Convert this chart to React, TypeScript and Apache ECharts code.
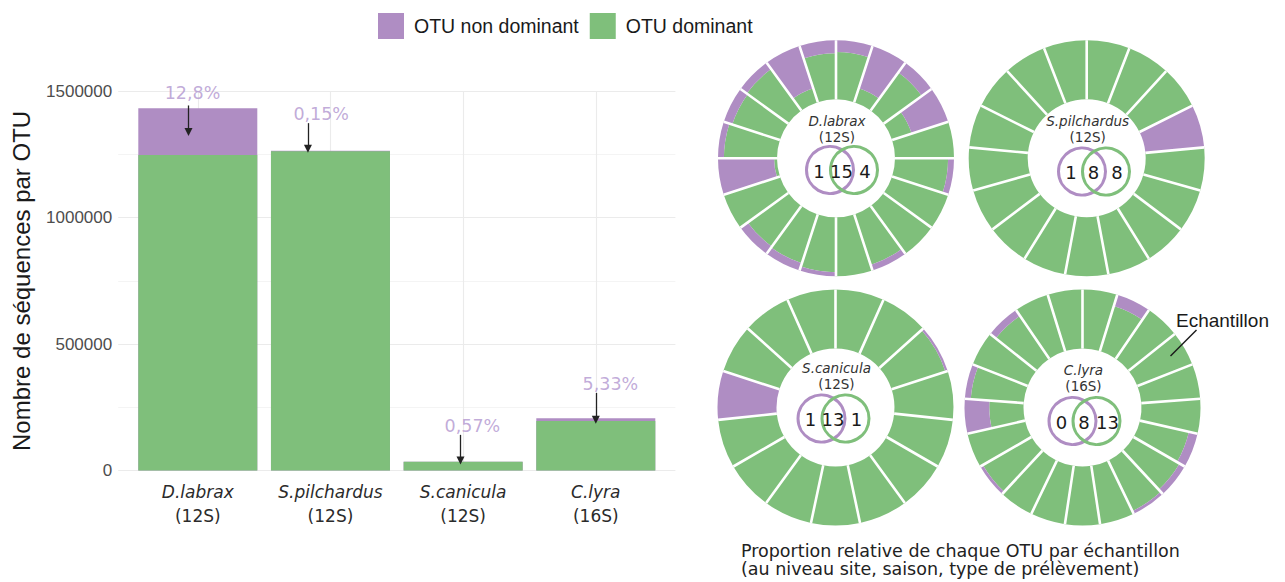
import React, { useEffect, useRef } from 'react';
import * as echarts from 'echarts';

// ---------- data ----------
const categories = ['D.labrax', 'S.pilchardus', 'S.canicula', 'C.lyra'];
const markers = ['12S', '12S', '12S', '16S'];
const dominantReads = [1248000, 1263100, 34600, 195500];
const nonDominantReads = [184700, 1900, 200, 11000];
const pctLabels = ['12,8%', '0,15%', '0,57%', '5,33%'];
// annotation anchors, in data units
const pctLabelX = [0.96, 1.93, 3.07, 4.11];
const pctLabelY = [1495000, 1412000, 175000, 343000];
const arrowX = [0.93, 1.83, 2.98, 4.0];
const arrowFromY = [1444000, 1374000, 141000, 307000];
const arrowToY = [1339000, 1273000, 40000, 201000];
const xTickValues = [1, 2, 3, 4];
const yMajorStep = 500000;

// share of the non dominant OTU in each sample (clockwise from 12 o'clock)
const dlabraxShare = [0.2, 0.75, 0.2, 0.65, 0, 0.1, 0, 0, 0.1, 0, 0.07, 0.13, 0.15, 0, 0.95, 0.1, 0.15, 0.13, 0.75, 0.22];
const spilchardusShare = [0, 0, 0, 1, 0, 0, 0, 0, 0, 0, 0, 0, 0, 0, 0, 0, 0];
const scaniculaShare = [0, 0, 0.04, 0, 0, 0, 0, 0, 0, 0, 0, 1, 0, 0, 0];
const clyraShare = [0, 0.2, 0, 0, 0, 0, 0.15, 0.1, 0.05, 0, 0, 0, 0, 0.05, 0, 0.42, 0.1, 0, 0.12, 0, 0];
const donutShares = [dlabraxShare, spilchardusShare, scaniculaShare, clyraShare];
const vennCounts = [
  [1, 15, 4],
  [1, 8, 8],
  [1, 13, 1],
  [0, 8, 13],
];

// ---------- styles / layout ----------
const PURPLE = '#AF8DC3';
const GREEN = '#7FBF7B';
const LABEL_PURPLE = '#B196CF';
const SANS = '"Liberation Sans", Arial, sans-serif';
const DJ = '"DejaVu Sans", Verdana, sans-serif';

const panels = [
  { cx: 836, cy: 158.3, vx: 842, vy: 170, ly: 121 },
  { cx: 1086.7, cy: 158.3, vx: 1094, vy: 171.5, ly: 120.5 },
  { cx: 835.5, cy: 407.5, vx: 833.5, vy: 418.5, ly: 368 },
  { cx: 1082.5, cy: 407.5, vx: 1084.5, vy: 421, ly: 369.5 },
];

function buildOption() {
  const totals = dominantReads.map((d, i) => d + nonDominantReads[i]);
  const series: any[] = [
    {
      // full column (dominant + non dominant); the dominant part is drawn over it
      name: 'OTU non dominant',
      type: 'bar',
      barWidth: 119,
      barGap: '-100%',
      z: 2,
      itemStyle: { color: PURPLE },
      data: categories.map((_, i) => [i + 1, totals[i]]),
    },
    {
      name: 'OTU dominant',
      type: 'bar',
      barWidth: 119,
      barGap: '-100%',
      z: 3,
      itemStyle: { color: GREEN },
      data: categories.map((_, i) => [i + 1, dominantReads[i]]),
    },
    {
      name: 'pct',
      type: 'scatter',
      symbolSize: 0,
      silent: true,
      z: 5,
      data: pctLabelX.map((x, i) => [x, pctLabelY[i]]),
      label: {
        show: true,
        position: 'inside',
        formatter: (p: any) => pctLabels[p.dataIndex],
        color: LABEL_PURPLE,
        fontSize: 17.5,
        fontFamily: DJ,
      },
      markLine: {
        silent: true,
        z: 6,
        symbol: ['none', 'triangle'],
        symbolSize: 8,
        label: { show: false },
        lineStyle: { color: '#222', width: 1.3, type: 'solid' },
        data: arrowX.map((x, i) => [
          { coord: [x, arrowFromY[i]] },
          { coord: [x, arrowToY[i]] },
        ]),
      },
    },
  ];

  donutShares.forEach((shares, k) => {
    series.push({
      name: 'OTU dominant',
      type: 'bar',
      coordinateSystem: 'polar',
      polarIndex: k,
      stack: 'donut' + k,
      barCategoryGap: '0%',
      silent: true,
      itemStyle: { color: GREEN },
      data: shares.map((s) => 1 - s),
    });
    series.push({
      name: 'OTU non dominant',
      type: 'bar',
      coordinateSystem: 'polar',
      polarIndex: k,
      stack: 'donut' + k,
      barCategoryGap: '0%',
      silent: true,
      itemStyle: { color: PURPLE },
      data: shares,
    });
  });

  const graphics: any[] = [];
  panels.forEach((p, k) => {
    const [a, b, c] = vennCounts[k];
    graphics.push({
      type: 'text', x: p.cx + 1, y: p.ly, z: 30,
      style: { text: categories[k], fontSize: 13.5, fontStyle: 'italic', fontFamily: DJ, fill: '#333', align: 'center', verticalAlign: 'middle', textAlign: 'center', textVerticalAlign: 'middle' },
    });
    graphics.push({
      type: 'text', x: p.cx + 1, y: p.ly + 16, z: 30,
      style: { text: '(' + markers[k] + ')', fontSize: 13.5, fontFamily: DJ, fill: '#333', align: 'center', verticalAlign: 'middle', textAlign: 'center', textVerticalAlign: 'middle' },
    });
    graphics.push({
      type: 'circle', z: 30, shape: { cx: p.vx - 12, cy: p.vy, r: 23.5 },
      style: { fill: 'none', stroke: PURPLE, lineWidth: 3 },
    });
    graphics.push({
      type: 'circle', z: 31, shape: { cx: p.vx + 12, cy: p.vy, r: 23.5 },
      style: { fill: 'none', stroke: GREEN, lineWidth: 3 },
    });
    [[a, -23], [b, -0.5], [c, 23]].forEach(([v, dx]) => {
      graphics.push({
        type: 'text', x: p.vx + (dx as number), y: p.vy + 1, z: 32,
        style: { text: String(v), fontSize: 18, fontFamily: DJ, fill: '#1a1a1a', align: 'center', verticalAlign: 'middle', textAlign: 'center', textVerticalAlign: 'middle' },
      });
    });
  });
  graphics.push({
    type: 'text', x: 1176, y: 320, z: 30,
    style: { text: 'Echantillon', fontSize: 19, fontFamily: SANS, fill: '#1a1a1a', align: 'left', verticalAlign: 'middle', textAlign: 'left', textVerticalAlign: 'middle' },
  });
  graphics.push({
    type: 'line', z: 30, shape: { x1: 1196.5, y1: 330, x2: 1170.5, y2: 356 },
    style: { stroke: '#1a1a1a', lineWidth: 1.5 },
  });
  graphics.push({
    type: 'text', x: 741, y: 551, z: 30,
    style: { text: 'Proportion relative de chaque OTU par échantillon', fontSize: 17.5, fontFamily: DJ, fill: '#222', align: 'left', verticalAlign: 'middle', textAlign: 'left', textVerticalAlign: 'middle' },
  });
  graphics.push({
    type: 'text', x: 741, y: 569, z: 30,
    style: { text: '(au niveau site, saison, type de prélèvement)', fontSize: 17.5, fontFamily: DJ, fill: '#222', align: 'left', verticalAlign: 'middle', textAlign: 'left', textVerticalAlign: 'middle' },
  });

  return {
    animation: false,
    backgroundColor: '#ffffff',
    legend: {
      data: ['OTU non dominant', 'OTU dominant'],
      left: 373,
      top: 8,
      itemWidth: 26,
      itemHeight: 26,
      itemGap: 11,
      icon: 'rect',
      selectedMode: false,
      textStyle: { fontSize: 19.5, color: '#1a1a1a', fontFamily: SANS, padding: [0, 0, 0, 5] },
    },
    grid: { left: 118.2, right: 1285 - 675.4, top: 91.3, bottom: 582 - 470.5, containLabel: false },
    xAxis: {
      type: 'value',
      min: 0.4,
      max: 4.6,
      axisLine: { show: false },
      axisTick: { show: false, customValues: xTickValues },
      axisLabel: {
        customValues: xTickValues,
        margin: 9,
        formatter: (v: number) => {
          const i = Math.round(v) - 1;
          return '{i|' + categories[i] + '}\n{n|(' + markers[i] + ')}';
        },
        rich: {
          i: { fontSize: 17, fontStyle: 'italic', fontFamily: DJ, color: '#2b2b2b', lineHeight: 24 },
          n: { fontSize: 17, fontFamily: DJ, color: '#2b2b2b', lineHeight: 24 },
        },
      },
      splitLine: { show: true, lineStyle: { color: '#EBEBEB', width: 1.1 } },
    },
    yAxis: {
      type: 'value',
      min: 0,
      max: 1500000,
      interval: 250000,
      name: 'Nombre de séquences par OTU',
      nameLocation: 'middle',
      nameGap: 85,
      nameRotate: 90,
      nameTextStyle: { fontSize: 24, color: '#1a1a1a', fontFamily: SANS },
      axisLine: { show: false },
      axisTick: { show: false },
      axisLabel: {
        formatter: (v: number) => (v % yMajorStep === 0 ? String(v) : ''),
        fontSize: 17,
        color: '#4D4D4D',
        margin: 6,
        fontFamily: SANS,
      },
      splitLine: { show: true, lineStyle: { color: ['#EBEBEB', '#F4F4F4'], width: 1.1 } },
    },
    polar: panels.map((p) => ({ center: [p.cx, p.cy], radius: [59, 118] })),
    angleAxis: panels.map((_, k) => ({
      polarIndex: k,
      type: 'category',
      data: donutShares[k].map((_, i) => String(i + 1)),
      startAngle: 90,
      clockwise: true,
      boundaryGap: true,
      z: 10,
      axisLine: { show: false },
      axisTick: { show: false },
      axisLabel: { show: false },
      splitLine: { show: true, lineStyle: { color: '#ffffff', width: 2.6 } },
    })),
    radiusAxis: panels.map((_, k) => ({
      polarIndex: k,
      type: 'value',
      min: 0,
      max: 1,
      axisLine: { show: false },
      axisTick: { show: false },
      axisLabel: { show: false },
      splitLine: { show: false },
    })),
    series,
    graphic: graphics,
  };
}

export default function App() {
  const ref = useRef<HTMLDivElement>(null);
  useEffect(() => {
    if (!ref.current) return;
    const chart = echarts.init(ref.current, null, { renderer: 'svg' });
    chart.setOption(buildOption() as any);
    return () => chart.dispose();
  }, []);
  return (
    <div
      ref={ref}
      style={{ position: 'fixed', left: 0, top: 0, width: 1285, height: 582, background: '#ffffff' }}
    />
  );
}
